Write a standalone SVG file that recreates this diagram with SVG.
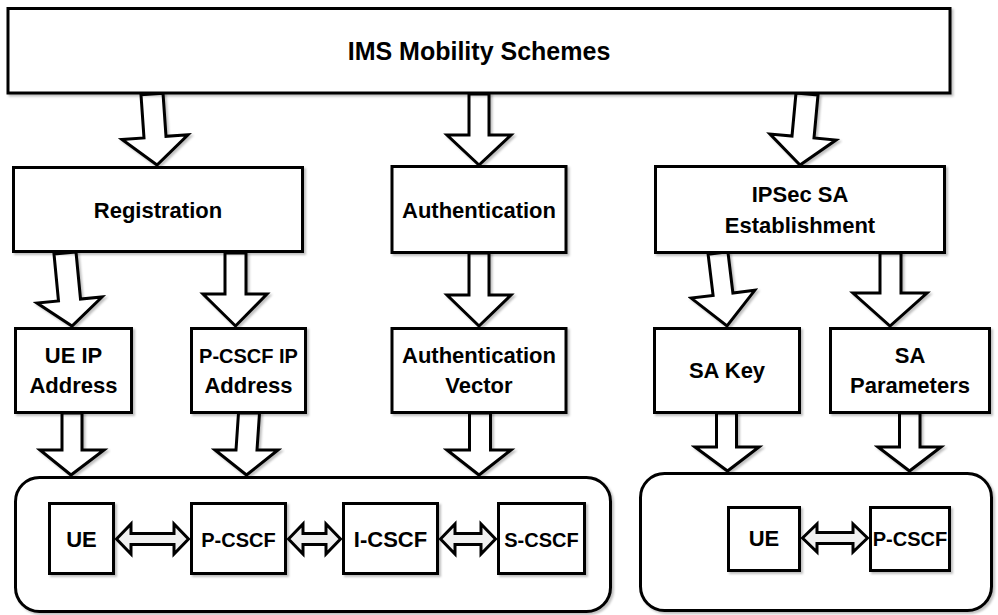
<svg xmlns="http://www.w3.org/2000/svg" width="998" height="615" viewBox="0 0 998 615">
<style>
.box{fill:#fff;stroke:#000;stroke-width:3;filter:url(#sh)}
.arr{fill:#fff;stroke:#000;stroke-width:3;stroke-linejoin:miter;filter:url(#sh)}
.dbl{fill:#f0f0f0;stroke:#000;stroke-width:3;stroke-linejoin:miter}
.t{font-family:"Liberation Sans",Arial,sans-serif;font-weight:bold;font-size:22px;fill:#000;text-anchor:middle}
.s{font-size:20px}
.h{font-size:25px}
</style>
<defs>
<filter id="sh" x="-5%" y="-5%" width="115%" height="115%">
<feDropShadow dx="2" dy="2" stdDeviation="1.2" flood-color="#000" flood-opacity="0.25"/>
</filter>
</defs>
<rect width="998" height="615" fill="#fff"/>

<g id="connectors">
<polygon class="arr" points="141,94.8 163,93.2 166,136.3 188,134.8 157,165 122,139.4 144,137.9"/>
<polygon class="arr" points="469,94 489,94 489,135 511,135 479,165 447,135 469,135"/>
<polygon class="arr" points="796,93 818,95 814,138 836,140 800,165 770,134 792,136"/>
<polygon class="arr" points="54,254 76,252 80.5,299 102,297 72,326 37,303 58.5,301"/>
<polygon class="arr" points="225,253 246,253 246,294 267,294 235.5,326 203,294 225,294"/>
<polygon class="arr" points="469,253 489,253 489,295 511,295 479,326 447,295 469,295"/>
<polygon class="arr" points="708.1,254.2 727.9,251.8 732.9,293 754.8,290.3 727,326 691.2,298.1 713.1,295.4"/>
<polygon class="arr" points="880,253 901,253 901,293 927,293 890,326 853,293 880,293"/>
<polygon class="arr" points="62,413 82,413 82,450 104,450 71,475 40,450 62,450"/>
<polygon class="arr" points="238.5,413 259.5,413 257,450 278,450 246.5,475 215,450 236,450"/>
<polygon class="arr" points="469.5,413 490.5,413 490.5,450 511,450 479,475 447,450 469.5,450"/>
<polygon class="arr" points="716.5,413 736.5,413 736.5,447 759,447 727.5,471 695,447 716.5,447"/>
<polygon class="arr" points="899.5,413 920,413 920,447 941,447 909.5,471 878,447 899.5,447"/>
</g>

<g id="top"><rect class="box" x="8" y="8.5" width="942" height="84.5"/><text class="t h" x="479" y="60">IMS Mobility Schemes</text></g>
<g id="registration"><rect class="box" x="13.5" y="167.5" width="289" height="84"/><text class="t" x="158" y="218">Registration</text></g>
<g id="authentication"><rect class="box" x="392" y="166.5" width="174" height="86"/><text class="t" x="479" y="218">Authentication</text></g>
<g id="ipsec"><rect class="box" x="655.5" y="166.5" width="289" height="86"/><text class="t" x="800" y="202">IPSec SA</text><text class="t" x="800" y="233">Establishment</text></g>

<g id="ueip"><rect class="box" x="15.5" y="328.5" width="116" height="84"/><text class="t" x="73.5" y="363">UE IP</text><text class="t" x="73.5" y="393">Address</text></g>
<g id="pcscfip"><rect class="box" x="191.5" y="328.5" width="114" height="84"/><text class="t s" x="248.5" y="363">P-CSCF IP</text><text class="t" x="248.5" y="393">Address</text></g>
<g id="authvector"><rect class="box" x="392" y="328.5" width="174" height="84"/><text class="t" x="479" y="363">Authentication</text><text class="t" x="479" y="393">Vector</text></g>
<g id="sakey"><rect class="box" x="654.5" y="328.5" width="145" height="84"/><text class="t" x="727" y="378">SA Key</text></g>
<g id="saparams"><rect class="box" x="830.5" y="328.5" width="159" height="84"/><text class="t" x="910" y="363">SA</text><text class="t" x="910" y="393">Parameters</text></g>

<g id="group-left"><rect class="box" x="15.5" y="477.5" width="595" height="134" rx="24"/></g>
<g id="group-right"><rect class="box" x="640.5" y="473.5" width="351" height="137" rx="24"/></g>

<g id="links">
<polygon class="dbl" points="116.5,539 131,524 131,533.5 174,533.5 174,524 188.5,539 174,554 174,544.5 131,544.5 131,554"/>
<polygon class="dbl" points="288.5,539 303,524 303,533.5 326,533.5 326,524 340.5,539 326,554 326,544.5 303,544.5 303,554"/>
<polygon class="dbl" points="440.5,539 455,524 455,533.5 481,533.5 481,524 495.5,539 481,554 481,544.5 455,544.5 455,554"/>
<polygon class="dbl" points="802.5,538 817,524 817,532.5 853,532.5 853,524 867.5,538 853,552 853,543.5 817,543.5 817,552"/>
</g>

<g id="ue1"><rect class="box" x="49.5" y="503.5" width="64" height="70"/><text class="t" x="81.5" y="547">UE</text></g>
<g id="pcscf1"><rect class="box" x="191.5" y="503.5" width="94" height="70"/><text class="t s" x="238.5" y="547">P-CSCF</text></g>
<g id="icscf"><rect class="box" x="343.5" y="503.5" width="94" height="70"/><text class="t" x="390.5" y="547">I-CSCF</text></g>
<g id="scscf"><rect class="box" x="498.5" y="503.5" width="86" height="70"/><text class="t s" x="541.5" y="547">S-CSCF</text></g>
<g id="ue2"><rect class="box" x="728.5" y="507.5" width="71" height="63"/><text class="t" x="764" y="546">UE</text></g>
<g id="pcscf2"><rect class="box" x="870.5" y="507.5" width="79" height="63"/><text class="t s" x="910" y="546">P-CSCF</text></g>
</svg>
